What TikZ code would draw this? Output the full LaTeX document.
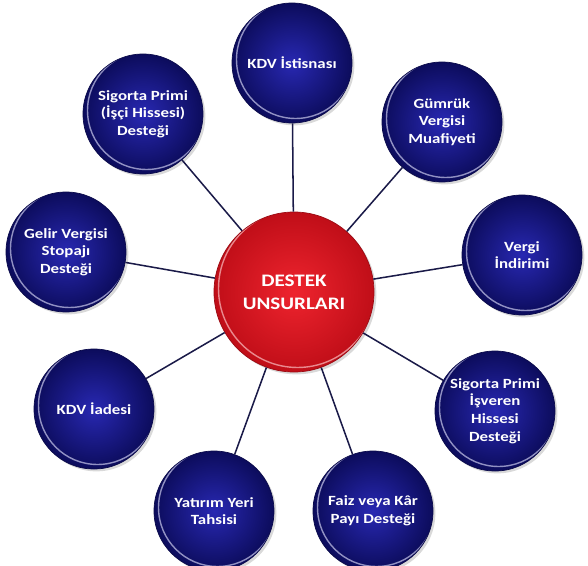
\documentclass[tikz,border=0pt]{standalone}
\usepackage{fontspec}
\setmainfont{Carlito}[FakeStretch=1.2]
\usetikzlibrary{shadows}

\definecolor{navyin}{RGB}{40,40,178}
\definecolor{navyout}{RGB}{12,12,92}
\definecolor{redin}{RGB}{238,36,46}
\definecolor{redout}{RGB}{192,14,24}
\definecolor{spokecol}{RGB}{26,26,72}

\tikzset{
    unsur/.style={circle, minimum size=3.6cm, inner sep=0pt, align=center, text=white,
        font=\bfseries\fontsize{12}{15}\selectfont,
        draw=navyout!80!black, line width=0.6pt,
        shading=radial, inner color=navyin, outer color=navyout,
        drop shadow={shadow xshift=2pt, shadow yshift=-2pt, opacity=0.3},
        path picture={\draw[white!75!navyin, line width=1.2pt, opacity=0.7]
            ([shift={(3pt,3pt)}]path picture bounding box.center) circle (1.77cm);}},
    merkez/.style={circle, minimum size=4.8cm, inner sep=0pt, align=center, text=white,
        font=\bfseries\fontsize{15}{19.5}\selectfont,
        draw=redout!80!black, line width=0.6pt,
        shading=radial, inner color=redin, outer color=redout,
        drop shadow={shadow xshift=2pt, shadow yshift=-2pt, opacity=0.3},
        path picture={\draw[white!70!redin, line width=1.2pt, opacity=0.7]
            ([shift={(3pt,3pt)}]path picture bounding box.center) circle (2.37cm);}},
    spoke/.style={draw=spokecol, line width=1.3pt}
}

\begin{document}
\begin{tikzpicture}[x=0.03cm, y=-0.03cm]
        \useasboundingbox (0,0) rectangle (588,566);
        \clip (0,0) rectangle (588,566);
        % destek unsurlari
        \node[merkez] (hub) at (294,292) {DESTEK\\UNSURLARI};
        \node[unsur] (kdvist) at (292,63) {KDV İstisnası};
        \node[unsur] (gumruk) at (442,122) {Gümrük\\Vergisi\\Muafiyeti};
        \node[unsur] (indirim) at (522,255) {Vergi\\İndirimi};
        \node[unsur] (isveren) at (495,411) {Sigorta Primi\\İşveren\\Hissesi\\Desteği};
        \node[unsur] (faiz) at (373,511) {Faiz veya Kâr\\Payı Desteği};
        \node[unsur] (yatirim) at (214,511) {Yatırım Yeri\\Tahsisi};
        \node[unsur] (kdviade) at (94,409) {KDV İadesi};
        \node[unsur] (stopaj) at (66,252) {Gelir Vergisi\\Stopajı\\Desteği};
        \node[unsur] (isci) at (143,114) {Sigorta Primi\\(İşçi Hissesi)\\Desteği};
        % baglantilar
        \draw[spoke] (hub) -- (kdvist);
        \draw[spoke] (hub) -- (gumruk);
        \draw[spoke] (hub) -- (indirim);
        \draw[spoke] (hub) -- (isveren);
        \draw[spoke] (hub) -- (faiz);
        \draw[spoke] (hub) -- (yatirim);
        \draw[spoke] (hub) -- (kdviade);
        \draw[spoke] (hub) -- (stopaj);
        \draw[spoke] (hub) -- (isci);
    \end{tikzpicture}
\end{document}
